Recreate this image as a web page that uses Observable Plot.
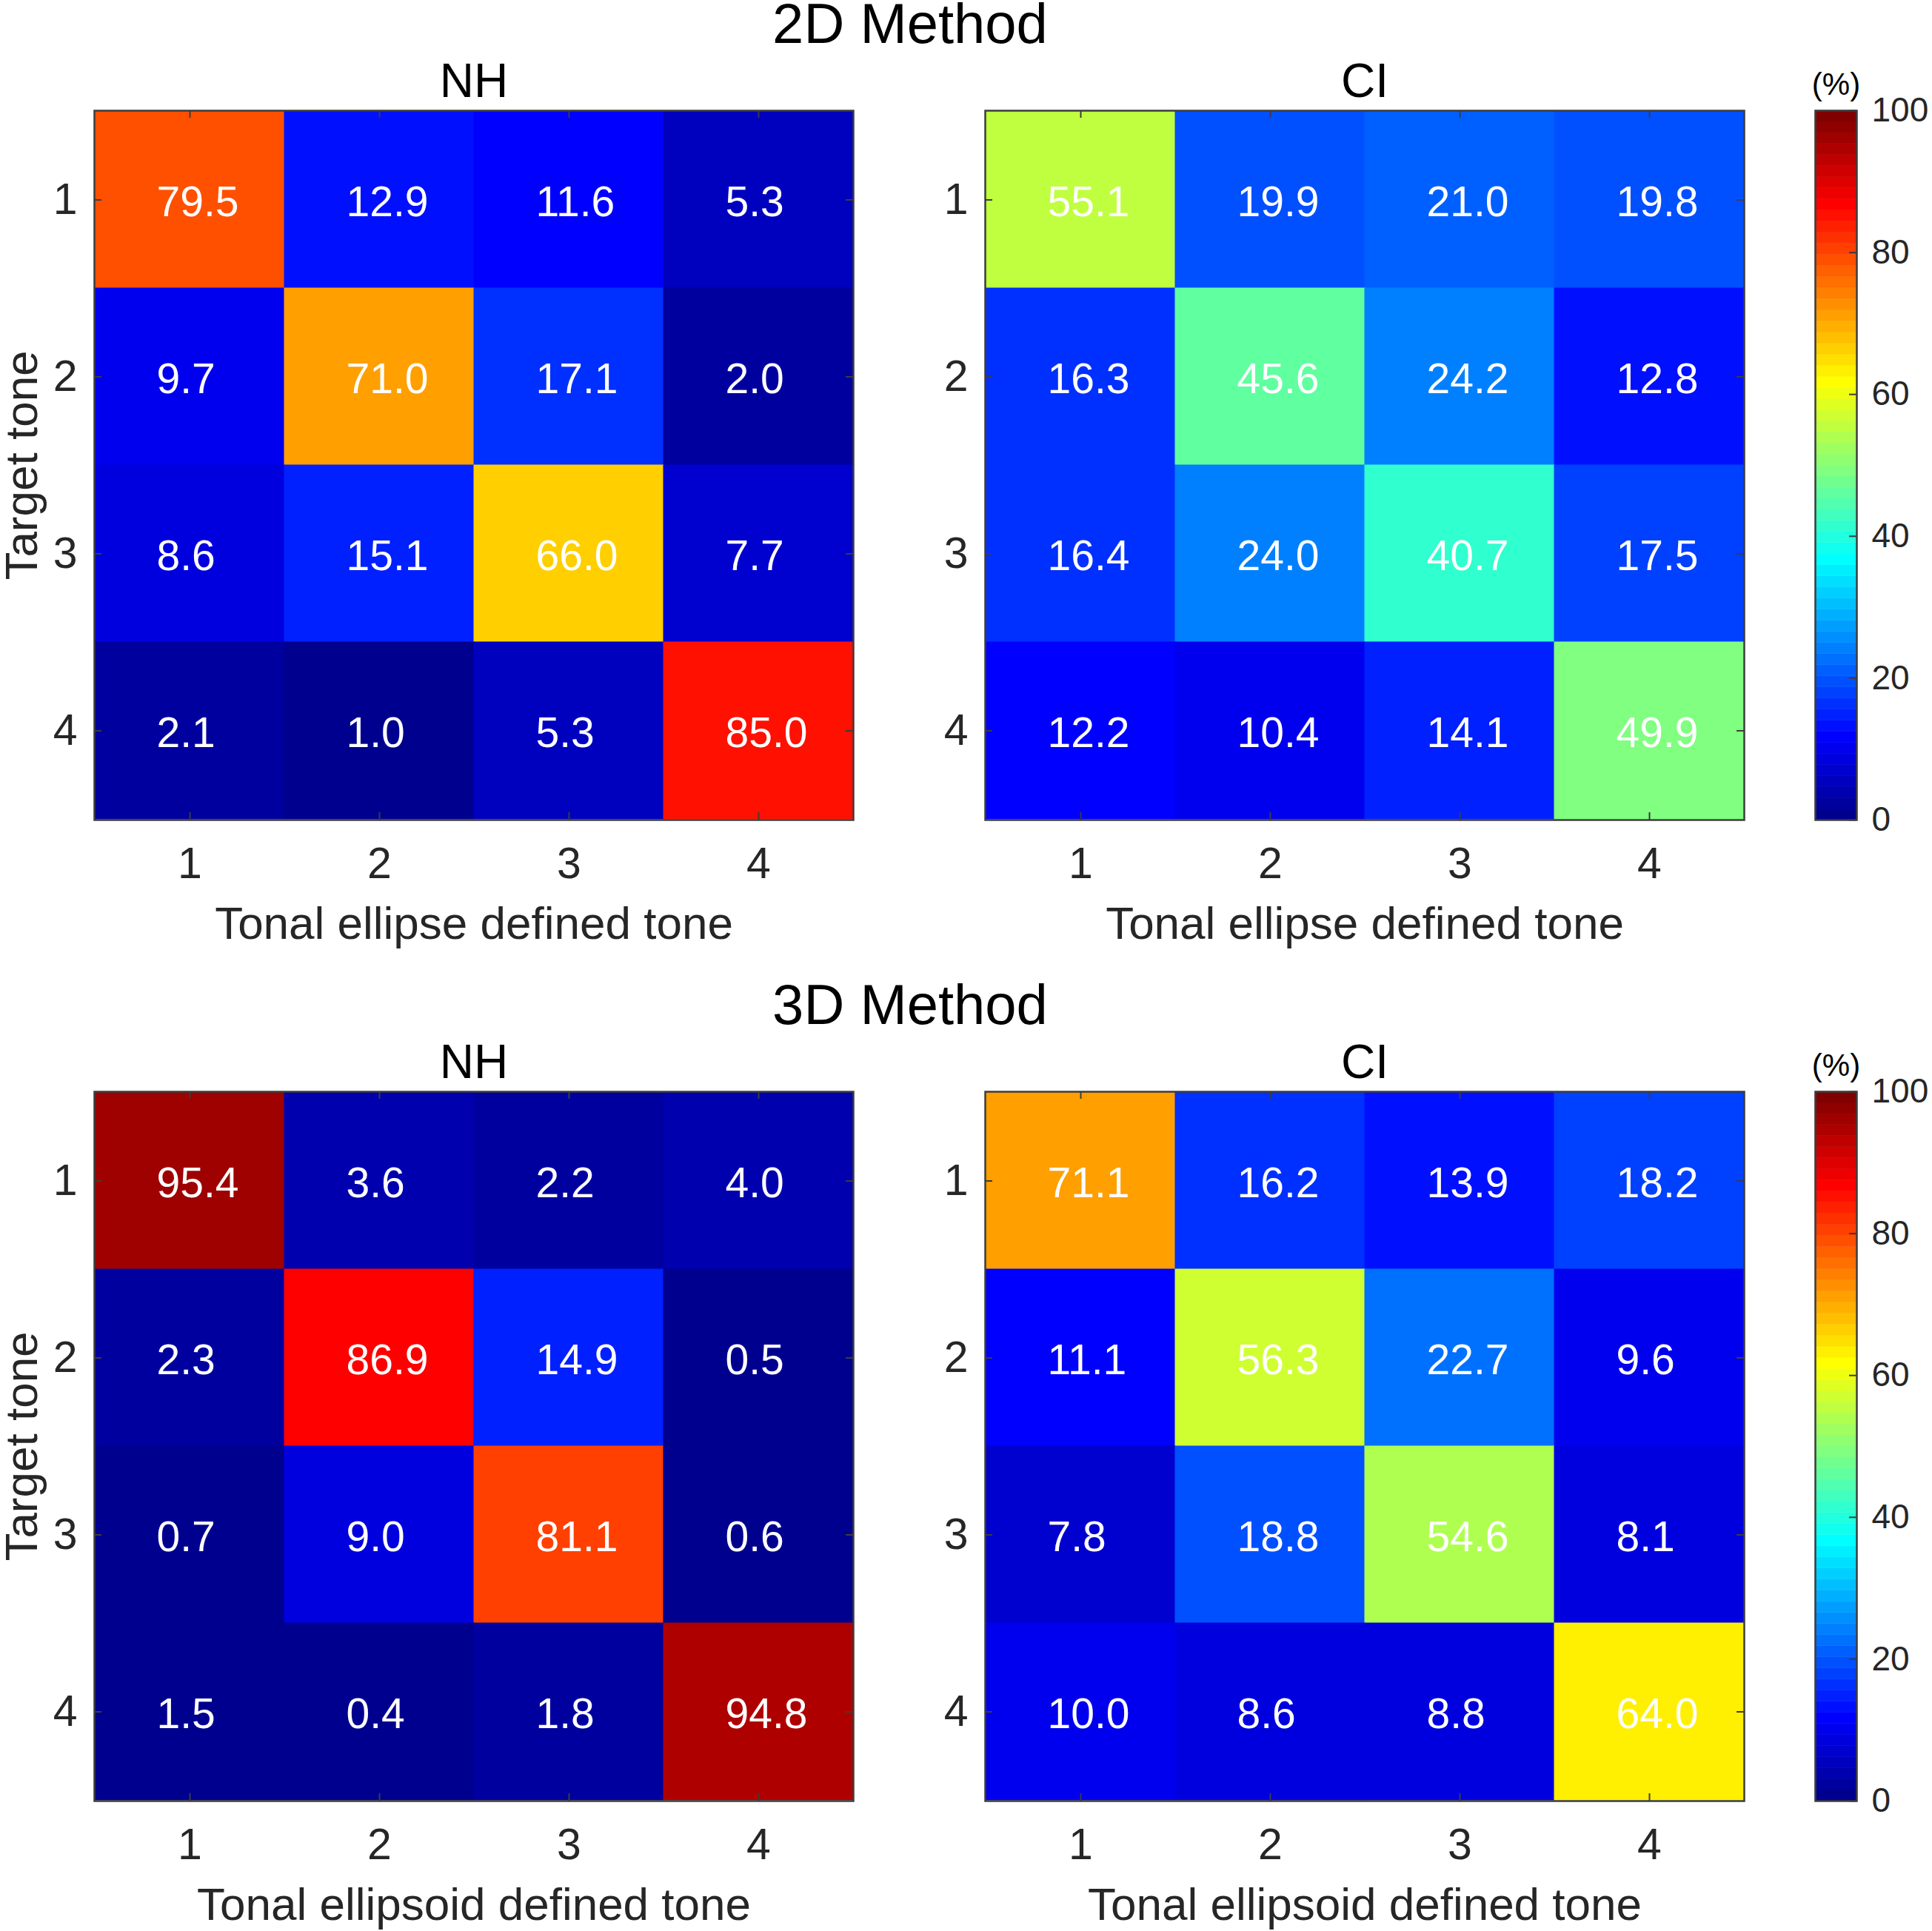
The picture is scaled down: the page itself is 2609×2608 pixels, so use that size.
<!DOCTYPE html>
<html><head><meta charset="utf-8">
<script src="https://cdn.jsdelivr.net/npm/d3@7"></script>
<script src="https://cdn.jsdelivr.net/npm/@observablehq/plot@0.6"></script>
<style>
html,body{margin:0;padding:0;background:#fff;}
#root{position:relative;width:2609px;height:2608px;overflow:hidden;font-family:"Liberation Sans",Arial,sans-serif;background:#fff;}
.abs{position:absolute;}
.abs svg{display:block;max-width:none;}
.method{position:absolute;width:1000px;height:64px;text-align:center;font-size:76px;line-height:64px;color:#000;white-space:nowrap;}
</style></head><body><div id="root"></div>
<script>
// ---------------- data ----------------
const tones = [1, 2, 3, 4];
const nh2D = [
  [79.5, 12.9, 11.6, 5.3],
  [9.7, 71.0, 17.1, 2.0],
  [8.6, 15.1, 66.0, 7.7],
  [2.1, 1.0, 5.3, 85.0]
];
const ci2D = [
  [55.1, 19.9, 21.0, 19.8],
  [16.3, 45.6, 24.2, 12.8],
  [16.4, 24.0, 40.7, 17.5],
  [12.2, 10.4, 14.1, 49.9]
];
const nh3D = [
  [95.4, 3.6, 2.2, 4.0],
  [2.3, 86.9, 14.9, 0.5],
  [0.7, 9.0, 81.1, 0.6],
  [1.5, 0.4, 1.8, 94.8]
];
const ci3D = [
  [71.1, 16.2, 13.9, 18.2],
  [11.1, 56.3, 22.7, 9.6],
  [7.8, 18.8, 54.6, 8.1],
  [10.0, 8.6, 8.8, 64.0]
];
const colorbarTicks = [0, 20, 40, 60, 80, 100];
const methodTitles = ["2D Method", "3D Method"];
const groupTitles = ["NH", "CI"];
const xLabels = ["Tonal ellipse defined tone", "Tonal ellipsoid defined tone"];
const yLabel = "Target tone";
const unitLabel = "(%)";

// ---------------- MATLAB jet(64) colormap ----------------
function jetU(k) { if (k < 1 || k > 47) return 0; if (k <= 16) return k / 16; if (k <= 31) return 1; return (48 - k) / 16; }
const jet64 = d3.range(1, 65).map(i => d3.rgb(Math.round(jetU(i - 24) * 255), Math.round(jetU(i - 8) * 255), Math.round(jetU(i + 8) * 255)).formatHex());
const thresholds = d3.range(1, 64).map(i => i * 100 / 64);
const colorScale = {type: "threshold", domain: thresholds, range: jet64};

const FONT = '"Liberation Sans", Arial, sans-serif';
const FW = 1025, FH = 958;
const TXT = "#262626", FRAME = "#3c3c3c";

function heatmap(matrix, {title, xlabel, ylabel, marginLeft, marginRight}) {
  const cells = [];
  matrix.forEach((row, r) => row.forEach((v, c) => cells.push({target: tones[r], defined: tones[c], value: v})));
  const mt = 149, mb = 175;
  return Plot.plot({
    width: marginLeft + FW + marginRight, height: mt + FH + mb,
    marginLeft, marginRight, marginTop: mt, marginBottom: mb,
    style: {fontFamily: FONT, fontSize: "59px", color: TXT, background: "transparent", overflow: "visible"},
    x: {type: "band", domain: tones, padding: 0},
    y: {type: "band", domain: tones, padding: 0},
    color: colorScale,
    marks: [
      Plot.cell(cells, {x: "defined", y: "target", fill: "value", stroke: "value", strokeWidth: 1}),
      Plot.text(cells, {x: "defined", y: "target", text: d => d.value.toFixed(1), fill: "white", fontSize: 57, textAnchor: "start", dx: -45, dy: 4}),
      Plot.ruleX(tones, {x: d => d, insetBottom: FH - 10, stroke: FRAME, strokeWidth: 2}),
      Plot.ruleX(tones, {x: d => d, insetTop: FH - 10, stroke: FRAME, strokeWidth: 2}),
      Plot.ruleY(tones, {y: d => d, insetRight: FW - 10, stroke: FRAME, strokeWidth: 2}),
      Plot.ruleY(tones, {y: d => d, insetLeft: FW - 10, stroke: FRAME, strokeWidth: 2}),
      Plot.frame({stroke: FRAME, strokeWidth: 2.5}),
      Plot.axisX({anchor: "bottom", tickSize: 0, tickPadding: 37, fontSize: 59, label: null}),
      Plot.axisY({anchor: "left", tickSize: 0, tickPadding: 23, fontSize: 59, label: null}),
      Plot.text([xlabel], {text: d => d, frameAnchor: "bottom", lineAnchor: "bottom", dy: 160, fontSize: 62}),
      Plot.text([title], {text: d => d, frameAnchor: "top", lineAnchor: "bottom", dy: -19, fontSize: 64, fill: "#000"}),
      ylabel ? Plot.text([ylabel], {text: d => d, frameAnchor: "left", textAnchor: "middle", rotate: -90, lineAnchor: "bottom", dx: -78, fontSize: 62}) : null
    ]
  });
}

function colorbar() {
  const bands = d3.range(64).map(i => ({lo: i * 100 / 64, hi: (i + 1) * 100 / 64, mid: (i + 0.5) * 100 / 64}));
  const ml = 86, mr = 100, mt = 149, mb = 40, bw = 56;
  return Plot.plot({
    width: ml + bw + mr, height: mt + FH + mb,
    marginLeft: ml, marginRight: mr, marginTop: mt, marginBottom: mb,
    style: {fontFamily: FONT, fontSize: "46px", color: TXT, background: "transparent", overflow: "visible"},
    x: {domain: [0, 1], axis: null},
    y: {domain: [0, 100], axis: null},
    color: colorScale,
    marks: [
      Plot.rect(bands, {x1: 0, x2: 1, y1: "lo", y2: "hi", fill: "mid", stroke: "mid", strokeWidth: 0.5}),
      Plot.ruleY(colorbarTicks, {y: d => d, insetLeft: bw - 10, stroke: FRAME, strokeWidth: 2}),
      Plot.frame({stroke: FRAME, strokeWidth: 2.5}),
      Plot.axisY(colorbarTicks, {anchor: "right", tickSize: 0, tickPadding: 20, fontSize: 46, label: null}),
      Plot.text([unitLabel], {text: d => d, frameAnchor: "top", lineAnchor: "bottom", dy: -22, fontSize: 42, fill: "#000"})
    ]
  });
}

const root = document.getElementById("root");
function place(node, left, top) {
  const d = document.createElement("div");
  d.className = "abs";
  d.style.left = left + "px";
  d.style.top = top + "px";
  d.appendChild(node);
  root.appendChild(d);
}
function methodTitle(text, top) {
  const d = document.createElement("div");
  d.className = "method";
  d.style.left = (1229 - 500) + "px";
  d.style.top = top + "px";
  d.textContent = text;
  root.appendChild(d);
}

const rows = [
  {nh: nh2D, ci: ci2D, top: 0, title: methodTitles[0], xlabel: xLabels[0]},
  {nh: nh3D, ci: ci3D, top: 1325, title: methodTitles[1], xlabel: xLabels[1]}
];
rows.forEach(r => {
  methodTitle(r.title, r.top);
  place(heatmap(r.nh, {title: groupTitles[0], xlabel: r.xlabel, ylabel: yLabel, marginLeft: 127, marginRight: 88}), 0, r.top);
  place(heatmap(r.ci, {title: groupTitles[1], xlabel: r.xlabel, ylabel: null, marginLeft: 90, marginRight: 10}), 1240, r.top);
  place(colorbar(), 2365, r.top);
});
</script></body></html>
